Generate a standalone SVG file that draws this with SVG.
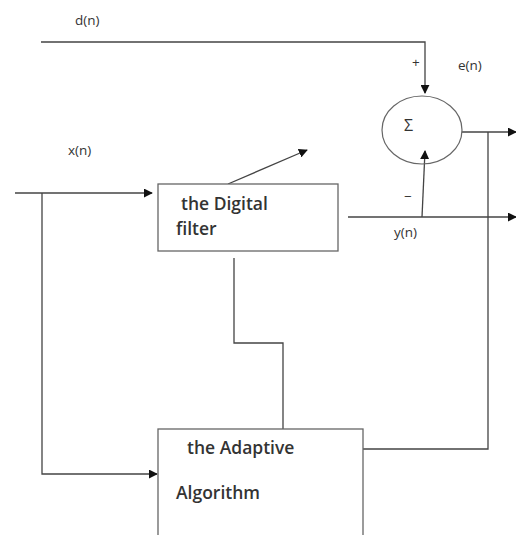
<svg xmlns="http://www.w3.org/2000/svg" width="516" height="535" viewBox="0 0 516 535">
<defs>
<style>
.ln{fill:none;stroke:#444;stroke-width:1.3}
.bx{fill:#fff;stroke:#666;stroke-width:1.3}
.t{font-family:"Open Sans","DejaVu Sans",sans-serif;fill:#333}
.lb{font-size:13.5px}
.nt{font-size:17.5px;font-weight:600}
</style>
<marker id="ah" viewBox="0 0 10 10" refX="9" refY="5" markerWidth="9" markerHeight="9" markerUnits="userSpaceOnUse" orient="auto">
<path d="M0,0 L10,5 L0,10 z" fill="#111"/>
</marker>
</defs>
<rect width="516" height="535" fill="#fff"/>
<g id="connectors">
<path class="ln" d="M41,42 H425 V93" marker-end="url(#ah)"/>
<path class="ln" d="M15,193 H152" marker-end="url(#ah)"/>
<path class="ln" d="M42,193 V474 H157" marker-end="url(#ah)"/>
<path class="ln" d="M228,184 L307,150" marker-end="url(#ah)"/>
<path class="ln" d="M348,217 H516" marker-end="url(#ah)"/>
<path class="ln" d="M422,217 L425,151" marker-end="url(#ah)"/>
<path class="ln" d="M462,132 H516" marker-end="url(#ah)"/>
<path class="ln" d="M488,132 V449 H363"/>
<path class="ln" d="M234,258 V343 H283 V429"/>
</g>
<g id="sum">
<ellipse cx="422" cy="130" rx="40" ry="34" fill="none" stroke="#666" stroke-width="1.2"/>
<text class="t" x="404" y="131" font-size="16">Σ</text>
</g>
<g id="filter">
<rect class="bx" x="158" y="184" width="180" height="67"/>
<text class="t nt" x="181" y="210">the Digital</text>
<text class="t nt" x="176" y="235">filter</text>
</g>
<g id="adaptive">
<rect class="bx" x="158" y="429" width="205" height="120"/>
<text class="t nt" x="187" y="454">the Adaptive</text>
<text class="t nt" x="176" y="499">Algorithm</text>
</g>
<g id="labels">
<text class="t lb" x="75" y="25">d(n)</text>
<text class="t lb" x="412" y="67">+</text>
<text class="t lb" x="458" y="70">e(n)</text>
<text class="t lb" x="68" y="155">x(n)</text>
<text class="t lb" x="404" y="201">−</text>
<text class="t lb" x="394" y="237">y(n)</text>
</g>
</svg>
